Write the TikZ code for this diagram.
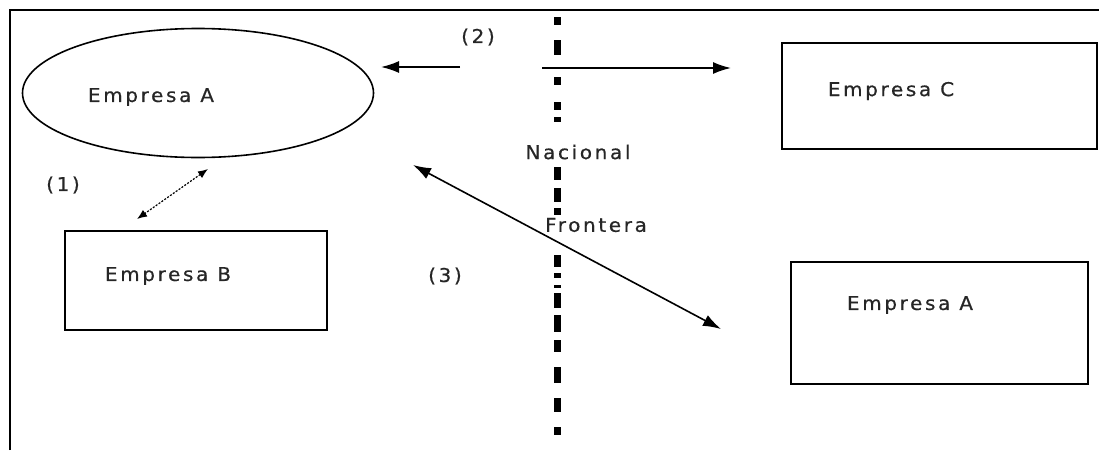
\documentclass[tikz,border=0pt]{standalone}
\usepackage{fontspec}
\setmainfont{DejaVu Sans}[LetterSpace=14,FakeStretch=1.05,FakeBold=0.6]
\usetikzlibrary{shapes.geometric,arrows.meta}
\begin{document}
\begin{tikzpicture}[x=1pt,y=-1pt,
  lbl/.style={inner sep=0pt,font=\fontsize{19}{22}\selectfont,text=black!85},
  arr/.style={line width=1.7pt,-{Latex[length=18pt,width=12pt]}},
  darr/.style={line width=1.6pt,{Latex[length=18pt,width=12pt]}-{Latex[length=18pt,width=12pt]}},
  dotarr/.style={line width=1.2pt,dash pattern=on 2pt off 1.5pt,{Latex[length=10pt,width=8pt]}-{Latex[length=10pt,width=8pt]}},
  divider/.style={line width=7pt}]
\useasboundingbox (0,0) rectangle (1099,450);
% frame (left and top only)
\coordinate (fbl) at (10,450);
\coordinate (ftl) at (10,10);
\coordinate (ftr) at (1099,10);
\draw[line width=2.2pt] (fbl) -- (ftl) -- (ftr);
% shapes
\node[ellipse,draw,line width=1.6pt,minimum width=351,minimum height=129,inner sep=0pt] (ellA) at (198,93) {};
\node[draw,line width=2pt,minimum width=262,minimum height=99,inner sep=0pt] (boxB) at (196,280) {};
\node[draw,line width=2pt,minimum width=315,minimum height=106,inner sep=0pt] (boxC) at (939.5,96) {};
\node[draw,line width=2pt,minimum width=297,minimum height=122,inner sep=0pt] (boxA2) at (939.5,323) {};
% texts
\node[lbl] (tA) at (151,97) {Empresa A};
\node[lbl] (tB) at (168,276) {Empresa B};
\node[lbl] (tC) at (891,91) {Empresa C};
\node[lbl] (tA2) at (910,305) {Empresa A};
\node[lbl] (l1) at (63,185) {(1)};
\node[lbl] (l2) at (478,37) {(2)};
\node[lbl] (l3) at (445,276) {(3)};
\node[lbl] (nac) at (578,152) {Nacional};
\node[lbl] (fro) at (596,225) {Frontera};
% divider
\foreach \a/\b in {17/25,40/55,77/85,102/110,117/122,167/180,188/202,208/215,255/267,273/278,285/288,293/308,315/332,340/352,367/383,398/412,427/435}
  \draw[divider] (557,\a) -- (557,\b);
% arrows
\coordinate (a2ls) at (460,67);
\coordinate (a2le) at (381,67);
\coordinate (a2rs) at (542,68);
\coordinate (a2re) at (731,68);
\draw[arr] (a2ls) -- (a2le);
\draw[arr] (a2rs) -- (a2re);
\coordinate (a1s) at (208,169);
\coordinate (a1e) at (137,219);
\draw[dotarr] (a1s) -- (a1e);
\coordinate (a3s) at (413,165);
\coordinate (a3e) at (721,329);
\draw[darr] (a3s) -- (a3e);
\end{tikzpicture}
\end{document}
